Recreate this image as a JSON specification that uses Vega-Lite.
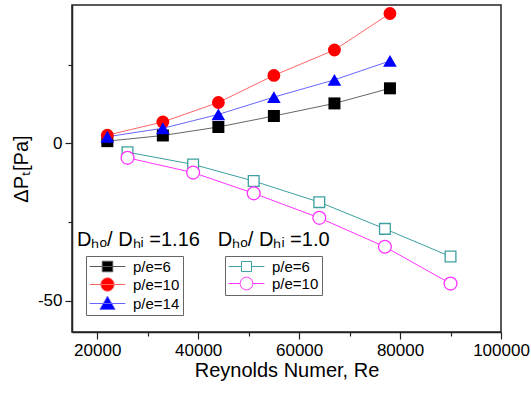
{
  "$schema": "https://vega.github.io/schema/vega-lite/v6.json",
  "width": 429,
  "height": 327,
  "autosize": {"type": "none"},
  "padding": {"left": 72, "top": 5, "right": 30, "bottom": 61},
  "config": {
    "font": "Liberation Sans",
    "view": {"stroke": "#222", "strokeWidth": 1.5},
    "axis": {
      "grid": false,
      "domainColor": "#222",
      "domainWidth": 1.5,
      "tickColor": "#222",
      "tickWidth": 1.2,
      "labelColor": "black",
      "titleColor": "black",
      "labelFont": "Liberation Sans",
      "titleFont": "Liberation Sans",
      "labelFontSize": 17,
      "titleFontSize": 20,
      "titleFontWeight": "normal"
    },
    "legend": {
      "orient": "none",
      "strokeColor": "#666",
      "fillColor": "white",
      "padding": 3,
      "symbolSize": 196,
      "symbolOffset": 11,
      "symbolOpacity": 1,
      "symbolStrokeWidth": 1,
      "labelFontSize": 15,
      "labelFont": "Liberation Sans",
      "labelColor": "black",
      "labelOffset": 18,
      "rowPadding": 0
    }
  },
  "datasets": {
    "ratio116": [
      {"Re": 22000, "dP": 0.7, "pe": "p/e=6"},
      {"Re": 33000, "dP": 2.5, "pe": "p/e=6"},
      {"Re": 44000, "dP": 5.2, "pe": "p/e=6"},
      {"Re": 55000, "dP": 8.7, "pe": "p/e=6"},
      {"Re": 67000, "dP": 12.7, "pe": "p/e=6"},
      {"Re": 78000, "dP": 17.5, "pe": "p/e=6"},
      {"Re": 22000, "dP": 2.6, "pe": "p/e=10"},
      {"Re": 33000, "dP": 6.8, "pe": "p/e=10"},
      {"Re": 44000, "dP": 13.0, "pe": "p/e=10"},
      {"Re": 55000, "dP": 21.6, "pe": "p/e=10"},
      {"Re": 67000, "dP": 29.7, "pe": "p/e=10"},
      {"Re": 78000, "dP": 41.3, "pe": "p/e=10"},
      {"Re": 22000, "dP": 2.1, "pe": "p/e=14"},
      {"Re": 33000, "dP": 4.8, "pe": "p/e=14"},
      {"Re": 44000, "dP": 9.2, "pe": "p/e=14"},
      {"Re": 55000, "dP": 14.7, "pe": "p/e=14"},
      {"Re": 67000, "dP": 20.2, "pe": "p/e=14"},
      {"Re": 78000, "dP": 26.2, "pe": "p/e=14"}
    ],
    "ratio10": [
      {"Re": 26000, "dP": -2.8, "pe": "p/e=6"},
      {"Re": 39000, "dP": -6.7, "pe": "p/e=6"},
      {"Re": 51000, "dP": -12.0, "pe": "p/e=6"},
      {"Re": 64000, "dP": -18.7, "pe": "p/e=6"},
      {"Re": 77000, "dP": -27.2, "pe": "p/e=6"},
      {"Re": 90000, "dP": -36.0, "pe": "p/e=6"},
      {"Re": 26000, "dP": -4.6, "pe": "p/e=10"},
      {"Re": 39000, "dP": -9.3, "pe": "p/e=10"},
      {"Re": 51000, "dP": -15.9, "pe": "p/e=10"},
      {"Re": 64000, "dP": -23.7, "pe": "p/e=10"},
      {"Re": 77000, "dP": -32.9, "pe": "p/e=10"},
      {"Re": 90000, "dP": -44.6, "pe": "p/e=10"}
    ]
  },
  "layer": [
    {
      "data": {"name": "ratio116"},
      "encoding": {
        "x": {
          "field": "Re",
          "type": "quantitative",
          "scale": {"domain": [15000, 100000], "nice": false, "zero": false},
          "axis": {
            "title": "Reynolds Numer, Re",
            "values": [20000, 30000, 40000, 50000, 60000, 70000, 80000, 90000, 100000],
            "labelExpr": "datum.value % 20000 === 0 ? '' + datum.value : ''",
            "labelOverlap": false,
            "labelFlush": false,
            "labelPadding": 3,
            "titlePadding": 2,
            "tickSize": {"condition": {"test": "datum.value % 20000 === 0", "value": 7}, "value": 4}
          }
        },
        "y": {
          "field": "dP",
          "type": "quantitative",
          "scale": {"domain": [-60, 44], "nice": false, "zero": false},
          "axis": {
            "title": "ΔPₜ[Pa]",
            "values": [-50, -25, 0, 25],
            "labelExpr": "datum.value % 50 === 0 ? '' + datum.value : ''",
            "labelOverlap": false,
            "labelPadding": 3,
            "titlePadding": 6,
            "tickSize": {"condition": {"test": "datum.value % 50 === 0", "value": 7}, "value": 4}
          }
        }
      },
      "layer": [
        {
          "mark": {"type": "line", "strokeWidth": 1, "opacity": 0.6},
          "encoding": {
            "color": {"field": "pe", "type": "nominal", "scale": {"domain": ["p/e=6", "p/e=10", "p/e=14"], "range": ["black", "red", "blue"]}, "legend": null}
          }
        },
        {
          "mark": {"type": "point", "filled": true, "opacity": 1},
          "encoding": {
            "color": {"field": "pe", "type": "nominal", "scale": {"domain": ["p/e=6", "p/e=10", "p/e=14"], "range": ["black", "red", "blue"]}, "legend": null},
            "shape": {"field": "pe", "type": "nominal", "scale": {"domain": ["p/e=6", "p/e=10", "p/e=14"], "range": ["square", "circle", "triangle-up"]}, "legend": null},
            "size": {"field": "pe", "type": "nominal", "scale": {"domain": ["p/e=6", "p/e=10", "p/e=14"], "range": [144, 185, 256]}, "legend": null}
          }
        },
        {
          "transform": [{"filter": "false"}],
          "mark": {"type": "point", "filled": true, "opacity": 1, "strokeWidth": 1},
          "encoding": {
            "color": {"field": "pe", "type": "nominal", "scale": {"domain": ["p/e=6", "p/e=10", "p/e=14"], "range": ["black", "red", "blue"]}, "legend": {"title": null, "legendX": 14, "legendY": 251}},
            "stroke": {"field": "pe", "type": "nominal", "scale": {"domain": ["p/e=6", "p/e=10", "p/e=14"], "range": ["#555", "#ff6666", "#6666ff"]}, "legend": {"title": null, "legendX": 14, "legendY": 251}},
            "shape": {"field": "pe", "type": "nominal", "scale": {"domain": ["p/e=6", "p/e=10", "p/e=14"], "range": ["M-2.55,0H2.55M-0.75,-0.75H0.75V0.75H-0.75Z", "M-2.55,0H2.55M-0.95,0A0.95,0.95 0 1,0 0.95,0A0.95,0.95 0 1,0 -0.95,0Z", "M-2.55,0H2.55M0,-1.05L1.1,0.85H-1.1Z"]}, "legend": {"title": null, "legendX": 14, "legendY": 251}}
          }
        }
      ],
      "resolve": {"scale": {"color": "independent", "shape": "independent", "stroke": "independent", "size": "independent"}}
    },
    {
      "data": {"name": "ratio10"},
      "encoding": {
        "x": {"field": "Re", "type": "quantitative"},
        "y": {"field": "dP", "type": "quantitative"}
      },
      "layer": [
        {
          "mark": {"type": "line", "strokeWidth": 1},
          "encoding": {
            "color": {"field": "pe", "type": "nominal", "scale": {"domain": ["p/e=6", "p/e=10"], "range": ["#3d9f9f", "#ff33ff"]}, "legend": null}
          }
        },
        {
          "mark": {"type": "point", "filled": false, "fill": "white", "strokeWidth": 1.3, "opacity": 1},
          "encoding": {
            "color": {"field": "pe", "type": "nominal", "scale": {"domain": ["p/e=6", "p/e=10"], "range": ["#3d9f9f", "#ff33ff"]}, "legend": null},
            "shape": {"field": "pe", "type": "nominal", "scale": {"domain": ["p/e=6", "p/e=10"], "range": ["square", "circle"]}, "legend": null},
            "size": {"field": "pe", "type": "nominal", "scale": {"domain": ["p/e=6", "p/e=10"], "range": [115, 165]}, "legend": null}
          }
        },
        {
          "transform": [{"filter": "false"}],
          "mark": {"type": "point", "filled": false, "opacity": 1, "strokeWidth": 1},
          "encoding": {
            "color": {"field": "pe", "type": "nominal", "scale": {"domain": ["p/e=6", "p/e=10"], "range": ["#3d9f9f", "#ff33ff"]}, "legend": {"title": null, "legendX": 153, "legendY": 251}},
            "shape": {"field": "pe", "type": "nominal", "scale": {"domain": ["p/e=6", "p/e=10"], "range": ["M-2.55,0H-0.72M0.72,0H2.55M-0.72,-0.72H0.72V0.72H-0.72Z", "M-2.55,0H-0.9M0.9,0H2.55M-0.9,0A0.9,0.9 0 1,0 0.9,0A0.9,0.9 0 1,0 -0.9,0Z"]}, "legend": {"title": null, "legendX": 153, "legendY": 251}}
          }
        }
      ],
      "resolve": {"scale": {"color": "independent", "shape": "independent", "size": "independent"}}
    },
    {
      "data": {"values": [{"label": "Dₕₒ/ Dₕᵢ =1.16"}]},
      "mark": {"type": "text", "align": "left", "baseline": "alphabetic", "fontSize": 20, "font": "Liberation Sans", "color": "black"},
      "encoding": {
        "x": {"datum": 16000, "type": "quantitative"},
        "y": {"datum": -32.7, "type": "quantitative"},
        "text": {"field": "label"}
      }
    },
    {
      "data": {"values": [{"label": "Dₕₒ/ Dₕᵢ =1.0"}]},
      "mark": {"type": "text", "align": "left", "baseline": "alphabetic", "fontSize": 20, "font": "Liberation Sans", "color": "black"},
      "encoding": {
        "x": {"datum": 43900, "type": "quantitative"},
        "y": {"datum": -32.7, "type": "quantitative"},
        "text": {"field": "label"}
      }
    }
  ],
  "resolve": {"scale": {"color": "independent", "shape": "independent", "stroke": "independent", "size": "independent"}}
}
